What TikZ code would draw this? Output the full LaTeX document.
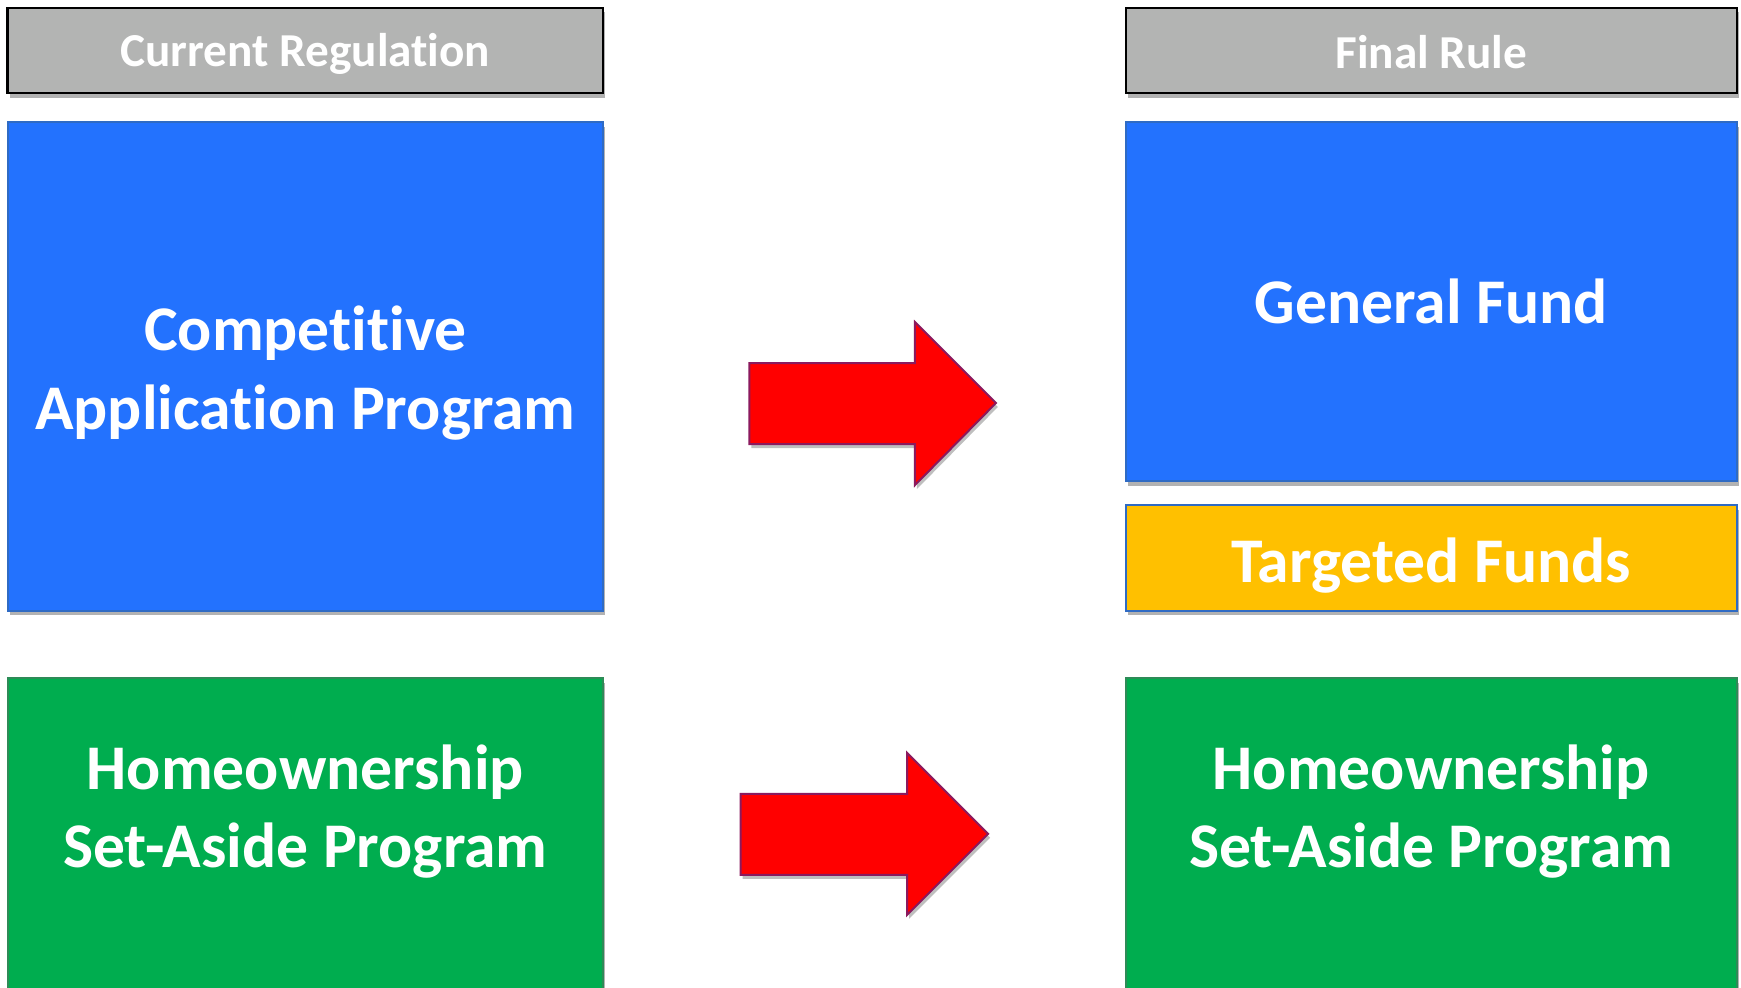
\documentclass[tikz,border=0pt]{standalone}
\usepackage{fontspec}
\setmainfont{Carlito}[Ligatures=NoCommon]
\usetikzlibrary{shadows}
\definecolor{hdrgray}{HTML}{B3B4B3}
\definecolor{boxblue}{HTML}{2372FE}
\definecolor{blueedge}{HTML}{2F6BC4}
\definecolor{boxyellow}{HTML}{FFC000}
\definecolor{boxgreen}{HTML}{00AD4F}
\definecolor{greenedge}{HTML}{2E8B57}
\definecolor{arrowred}{HTML}{FF0000}
\definecolor{arrowedge}{HTML}{8B1A5E}
\tikzset{
  x=0.01cm, y=-0.01cm,
  shad/.style={drop shadow={shadow xshift=0.6pt, shadow yshift=-1.2pt, opacity=0.3, fill=black}},
  hdr/.style={shad, rectangle, draw=black, line width=0.6pt, fill=hdrgray, inner sep=0pt},
  hdrtxt/.style={text=white, font=\fontsize{12.1}{14}\selectfont\bfseries, inner sep=0pt},
  bigbox/.style={shad, rectangle, line width=0.5pt, inner sep=0pt},
  bigtxt/.style={text=white, font=\fontsize{16.3}{20}\selectfont\bfseries, align=center, inner sep=0pt},
  redarrow/.style={fill=arrowred, draw=arrowedge, line width=0.5pt, line join=miter,
    drop shadow={shadow xshift=0.5pt, shadow yshift=-1pt, opacity=0.25, fill=black}}
}
\begin{document}
\begin{tikzpicture}
\useasboundingbox (0,0) rectangle (1568,889);
% headers
\node[hdr, minimum width=5.36cm, minimum height=0.77cm] (hcur) at (275,45.5) {};
\node[hdr, minimum width=5.50cm, minimum height=0.77cm] (hfin) at (1289,45.5) {};
\node[hdrtxt] (hcurtxt) at (275,48.5) {Current Regulation};
\node[hdrtxt] (hfintxt) at (1289,46.5) {Final Rule};
% left blue
\node[bigbox, draw=blueedge, fill=boxblue, minimum width=5.36cm, minimum height=4.40cm] (cap) at (275,330) {};
\node[bigtxt] (captxt) at (275,336) {Competitive\\Application Program};
% right blue
\node[bigbox, draw=blueedge, fill=boxblue, minimum width=5.50cm, minimum height=3.23cm] (gen) at (1289,271.5) {};
\node[bigtxt] (gentxt) at (1289,271.5) {General Fund};
% yellow
\node[bigbox, draw=blueedge, fill=boxyellow, minimum width=5.50cm, minimum height=0.95cm] (tgt) at (1289,502.5) {};
\node[bigtxt] (tgttxt) at (1289,509.5) {Targeted Funds};
% green boxes (run off the bottom)
\node[bigbox, draw=greenedge, fill=boxgreen, minimum width=5.36cm, minimum height=3.00cm] (hl) at (275,761) {};
\node[bigbox, draw=greenedge, fill=boxgreen, minimum width=5.50cm, minimum height=3.00cm] (hr) at (1289,761) {};
\node[bigtxt] (hltxt) at (275,731) {Homeownership\\Set-Aside Program};
\node[bigtxt] (hrtxt) at (1289,731) {Homeownership\\Set-Aside Program};
% arrows
\draw[redarrow] (675,327) -- (824,327) -- (824,290) -- (897,363) -- (824,437) -- (824,400) -- (675,400) -- cycle;
\draw[redarrow] (667,715) -- (817,715) -- (817,678) -- (890,751) -- (817,824) -- (817,788) -- (667,788) -- cycle;
\end{tikzpicture}
\end{document}
